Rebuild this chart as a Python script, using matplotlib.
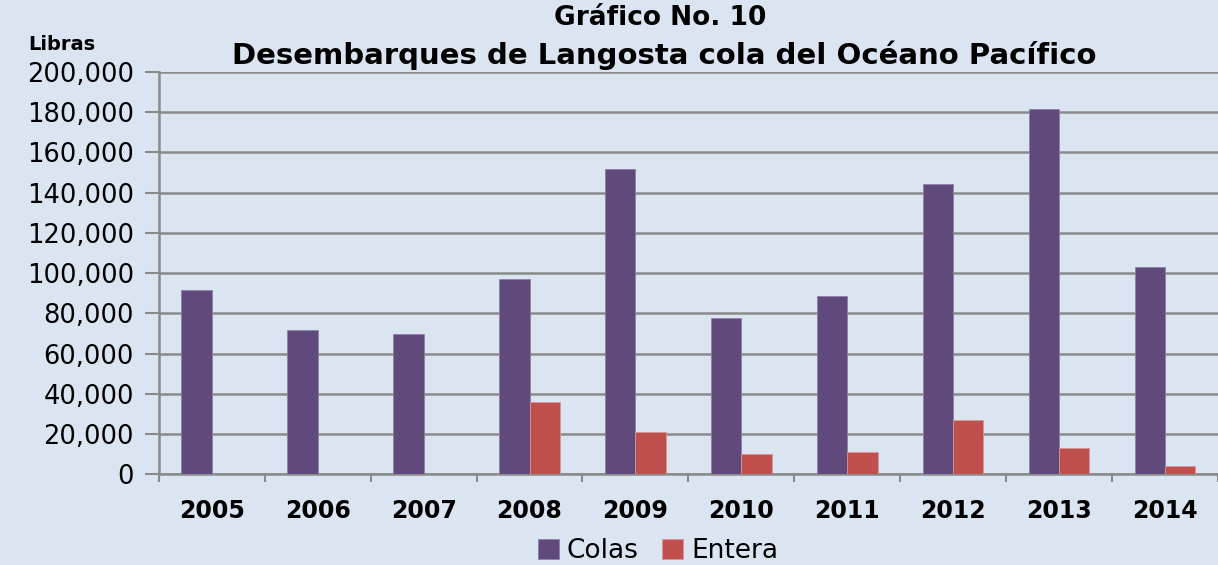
import numpy as np
import matplotlib.pyplot as plt
from matplotlib.ticker import FuncFormatter

years = ["2005", "2006", "2007", "2008", "2009", "2010", "2011", "2012", "2013", "2014"]
colas = [91500, 71600, 69600, 97300, 152000, 77600, 88500, 144100, 181600, 103300]
entera = [0, 0, 0, 36000, 21000, 10300, 11300, 27000, 13300, 4300]

bg = "#DBE5F1"
grid_col = "#8A8A8A"

fig = plt.figure(figsize=(12.18, 5.65), dpi=100, facecolor=bg)
W, H = 1218, 565
left, right, top, bottom = 158.8, 1218, 72, 474.3
ax = fig.add_axes([left / W, 1 - bottom / H, (right - left) / W, (bottom - top) / H])
ax.set_facecolor(bg)

x = np.arange(len(years))
w = 1 / 3.5
ax.bar(x - w / 2, colas, w, color="#604A7B", edgecolor="#8E80A6", linewidth=0.6, label="Colas", zorder=3)
ax.bar(x + w / 2, entera, w, color="#C0504D", edgecolor="#D99594", linewidth=0.6, label="Entera", zorder=3)

# keep the category spacing of the original (last category cut at right edge)
ax.set_xlim(-0.5, -0.5 + (right - left) / 107.5)
ax.set_ylim(0, 200000)

ax.set_yticks(np.arange(0, 200001, 20000))
ax.yaxis.set_major_formatter(FuncFormatter(lambda v, p: f"{int(v):,}"))
ax.tick_params(axis="y", length=10, width=1.5, color=grid_col, labelsize=18.5, pad=8)
ax.yaxis.grid(True, color=grid_col, linewidth=1.8, zorder=0)

ax.set_xticks(x)
ax.set_xticklabels(years, fontweight="bold", fontsize=17)
ax.set_xticks(np.arange(-0.5, len(years), 1), minor=True)
ax.tick_params(axis="x", which="major", length=0, pad=18)
ax.tick_params(axis="x", which="minor", length=6, width=1.5, color=grid_col)

for s in ["top", "right"]:
    ax.spines[s].set_visible(False)
for s in ["left", "bottom"]:
    ax.spines[s].set_color(grid_col)
    ax.spines[s].set_linewidth(1.8)

fig.text(660 / W, 1 - 18 / H, "Gráfico No. 10", ha="center", va="center", fontsize=19, fontweight="bold")
fig.text(664 / W, 1 - 55 / H, "Desembarques de Langosta cola del Océano Pacífico",
         ha="center", va="center", fontsize=21, fontweight="bold")
fig.text(62 / W, 1 - 44 / H, "Libras", ha="center", va="center", fontsize=14, fontweight="bold")

fig.legend(loc="center", bbox_to_anchor=(658 / W, 1 - 551 / H), ncol=2, frameon=False,
           fontsize=19, handlelength=0.8, handleheight=0.8, handletextpad=0.3, columnspacing=0.9)

fig.savefig("out.png", dpi=100, facecolor=bg)
